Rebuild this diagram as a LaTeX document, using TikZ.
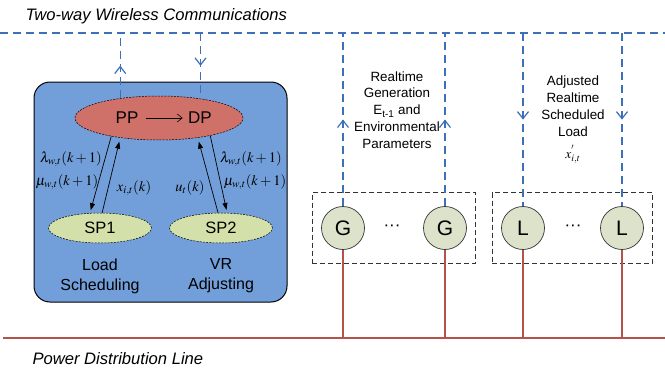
\documentclass[tikz,border=0pt]{standalone}
\usepackage{mathptmx}
\usepackage{fontspec}
\setmainfont{Liberation Sans}
\usetikzlibrary{arrows.meta,shapes.geometric,fit,decorations.markings}
\definecolor{wlblue}{RGB}{62,111,185}
\definecolor{plred}{RGB}{180,82,76}
\definecolor{ctrlblue}{RGB}{114,159,217}
\definecolor{pdred}{RGB}{207,113,105}
\definecolor{spgreen}{RGB}{212,224,170}
\definecolor{devgreen}{RGB}{221,226,203}

\begin{document}
\begin{tikzpicture}[x=1pt,y=-1pt,
    wl/.style={draw=wlblue,line width=1.2pt,dash pattern=on 8pt off 5pt},
    pl/.style={draw=plred,line width=1.2pt},
    midarrow/.style={postaction={decorate},decoration={markings,
      mark=at position 0.5 with {\arrow{Straight Barb[length=7pt,width=11pt]}}}},
    dev/.style={circle,draw=black!80,fill=devgreen,line width=0.7pt,minimum size=43,
      inner sep=0pt,font=\fontsize{21}{21}\selectfont},
    grp/.style={draw=black!80,line width=0.8pt,dash pattern=on 5pt off 3pt,
      inner xsep=9,inner ysep=13.5},
    sub/.style={ellipse,draw=black,line width=0.5pt,dash pattern=on 2pt off 1.2pt,
      minimum width=103,minimum height=30,fill=spgreen,font=\fontsize{16.5}{18}\selectfont},
    msg/.style={draw=black,line width=0.7pt,-{Triangle[length=7pt,width=5pt]}},
    mlbl/.style={inner sep=0pt,font=\fontsize{14.5}{16}\selectfont}]
  \useasboundingbox (0,0) rectangle (665,370);

  % buses
  \coordinate (wl-l) at (0,33);
  \coordinate (wl-r) at (665,33);
  \coordinate (pl-l) at (3,338);
  \coordinate (pl-r) at (665,338);
  \draw[wl] (wl-l) -- (wl-r);
  \draw[pl] (pl-l) -- (pl-r);
  \node[anchor=base west,font=\fontsize{16.6}{18}\selectfont\itshape] (wltitle) at (22,20) {Two-way Wireless Communications};
  \node[anchor=base west,font=\fontsize{16.6}{18}\selectfont\itshape] (pltitle) at (29,364) {Power Distribution Line};

  % control centre
  \node[draw=black,line width=1pt,fill=ctrlblue,rounded corners=16,minimum width=253,minimum height=220] (ctrl) at (160.5,192) {};
  \node[ellipse,draw=black,line width=0.5pt,dash pattern=on 2pt off 1.2pt,fill=pdred,minimum width=168,minimum height=44] (pd) at (159,118) {};
  \node[font=\fontsize{17}{18}\selectfont] (pp) at (127,118) {PP};
  \node[font=\fontsize{17}{18}\selectfont] (dp) at (200,118) {DP};
  \draw[-{Straight Barb[length=5pt,width=8pt]},line width=0.6pt,shorten <=4,shorten >=2] (pp) -- (dp);
  \node[sub] (sp1) at (100,228) {SP1};
  \node[sub] (sp2) at (221,228) {SP2};
  \node[align=center,font=\fontsize{16}{20}\selectfont] (sp1txt) at (100,276) {Load\\Scheduling};
  \node[align=center,font=\fontsize{16}{20}\selectfont] (sp2txt) at (221,276) {VR\\Adjusting};

  \draw[msg,shorten >=3] (pd.201) -- (sp1.124);
  \draw[msg,shorten >=4] (sp1.82) -- (pd.207);
  \draw[msg,shorten >=4] (sp2.101) -- (pd.333);
  \draw[msg,shorten >=3] (pd.341) -- (sp2.68);
  \node[mlbl] (lam1) at (71,159) {$\lambda_{w,t}(k+1)$};
  \node[mlbl] (mu1) at (67,182) {$\mu_{w,t}(k+1)$};
  \node[mlbl] (xk) at (134,188) {$x_{i,t}(k)$};
  \node[mlbl] (uk) at (190,188) {$u_t(k)$};
  \node[mlbl] (lam2) at (251,159) {$\lambda_{w,t}(k+1)$};
  \node[mlbl] (mu2) at (255,182) {$\mu_{w,t}(k+1)$};

  \draw[wl,midarrow] (pd.153) -- (pd.153 |- wl-l);
  \draw[wl,midarrow] (pd.25 |- wl-l) -- (pd.25);

  % generators and loads
  \node[dev] (g1) at (343,228) {G};
  \node[dev] (g2) at (445,228) {G};
  \node[dev] (l1) at (523,228) {L};
  \node[dev] (l2) at (622,228) {L};
  \node[font=\fontsize{17}{18}\selectfont] (gdots) at (392,228) {···};
  \node[font=\fontsize{17}{18}\selectfont] (ldots) at (573,228) {···};
  \node[grp,fit=(g1)(g2)] (ggrp) {};
  \node[grp,fit=(l1)(l2)] (lgrp) {};

  \foreach \n in {g1,g2}{
    \draw[wl,midarrow] (\n.north) -- (\n |- wl-l);
    \draw[pl] (\n.south) -- (\n |- pl-l);
  }
  \foreach \n in {l1,l2}{
    \draw[wl,midarrow] (\n |- wl-l) -- (\n.north);
    \draw[pl] (\n.south) -- (\n |- pl-l);
  }

  \node[align=center,font=\fontsize{13.4}{16.8}\selectfont] (gentxt) at (397,110)
    {Realtime\\Generation\\E\textsubscript{t-1} and\\Environmental\\Parameters};
  \node[align=center,font=\fontsize{13.4}{16.8}\selectfont] (loadtxt) at (573,120)
    {Adjusted\\Realtime\\Scheduled\\Load\\[5pt]$x_{i,t}^{'}$};
\end{tikzpicture}
\end{document}
